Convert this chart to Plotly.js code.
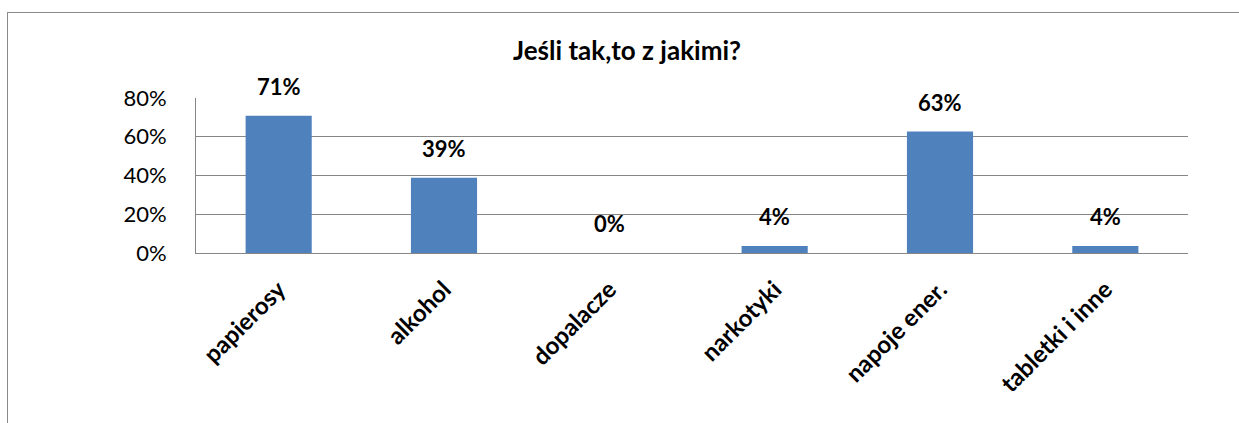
<!DOCTYPE html>
<html>
<head>
<meta charset="utf-8">
<script src="https://cdn.plot.ly/plotly-3.0.1.min.js"></script>
<style>
html,body{margin:0;padding:0;background:#fff;}
#wrap{position:relative;width:1239px;height:423px;overflow:hidden;}
#frame{position:absolute;left:7px;top:12px;width:1300px;height:500px;border-left:1px solid #8a8a8a;border-top:1px solid #8a8a8a;pointer-events:none;}
#chart{position:absolute;left:0;top:0;width:1239px;height:423px;}
</style>
</head>
<body>
<div id="wrap">
<div id="chart"></div>
<div id="frame"></div>
</div>
<script>
const categories = ["papierosy", "alkohol", "dopalacze", "narkotyki", "napoje ener.", "tabletki i inne"];
const values = [0.708, 0.389, 0.0, 0.036, 0.627, 0.036];
const yTickValues = [0, 0.2, 0.4, 0.6, 0.8];
const yTickLabels = ["0%", "20%", "40%", "60%", "80%"];
const titleText = "Jeśli tak,to z jakimi?";

const FONT = "Lato, 'Liberation Sans', sans-serif";

const trace = {
  type: "bar",
  x: categories,
  y: values,
  marker: {color: "#4F81BD", line: {width: 0}},
  width: 0.4,
  hoverinfo: "none"
};

const annotations = categories.map((c, i) => ({
  x: c,
  y: values[i],
  xref: "x",
  yref: "y",
  text: "<b>" + Math.round(values[i] * 100) + "%</b>",
  showarrow: false,
  yanchor: "bottom",
  yshift: 14,
  font: {family: FONT, size: 22, color: "#000"}
}));

const layout = {
  width: 1239,
  height: 423,
  margin: {l: 196, r: 51, t: 98, b: 170, pad: 0},
  paper_bgcolor: "#fff",
  plot_bgcolor: "#fff",
  showlegend: false,
  title: {
    text: "<b>" + titleText + "</b>",
    font: {family: FONT, size: 26, color: "#000"},
    x: 627 / 1239,
    xanchor: "center",
    xref: "container",
    y: 1 - 51 / 423,
    yanchor: "middle",
    yref: "container"
  },
  xaxis: {
    type: "category",
    showline: true,
    linecolor: "#868686",
    linewidth: 1,
    showgrid: false,
    ticks: "",
    tickangle: -45,
    tickfont: {family: FONT, size: 24, color: "#000", weight: "bold"},
    ticklabelstandoff: 12,
    fixedrange: true
  },
  yaxis: {
    range: [0, 0.8],
    tickvals: yTickValues,
    ticktext: yTickLabels,
    showline: true,
    linecolor: "#868686",
    linewidth: 1,
    showgrid: true,
    gridcolor: "#868686",
    gridwidth: 1,
    zeroline: false,
    ticks: "",
    ticklabelstandoff: 24,
    tickfont: {family: FONT, size: 22, color: "#000"},
    fixedrange: true
  },
  annotations: annotations
};

Plotly.newPlot("chart", [trace], layout, {displayModeBar: false, staticPlot: true});
</script>
</body>
</html>
